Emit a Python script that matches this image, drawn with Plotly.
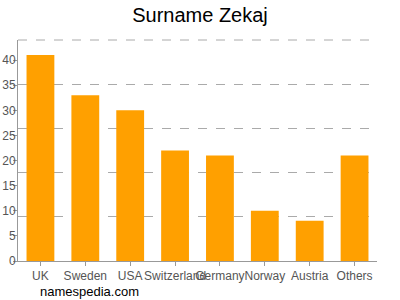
import plotly.graph_objects as go

categories = ["UK", "Sweden", "USA", "Switzerland", "Germany", "Norway", "Austria", "Others"]
values = [41, 33, 30, 22, 21, 10, 8, 21]
y_ticks = [0, 5, 10, 15, 20, 25, 30, 35, 40]
y_max = 44
grid_vals = [y_max * k / 5 for k in range(1, 5)]

fig = go.Figure()
fig.add_trace(go.Bar(
    x=categories, y=values,
    marker=dict(color="#FFA000", line=dict(width=0)),
    yaxis="y",
))
# invisible trace on a second y axis used only for the dashed grid
fig.add_trace(go.Scatter(x=[categories[0]], y=[0], yaxis="y2", mode="markers",
                         marker=dict(opacity=0), showlegend=False, hoverinfo="skip"))

fig.update_layout(
    width=400, height=300,
    margin=dict(l=18, r=23, t=40, b=39, autoexpand=False),
    paper_bgcolor="white", plot_bgcolor="white",
    showlegend=False,
    bargap=0.38,
    title=dict(text="Surname Zekaj", x=0.5, xanchor="center", y=0.95, yanchor="middle",
               font=dict(family="Liberation Sans, Arial, sans-serif", size=20, color="#000")),
    font=dict(family="Liberation Sans, Arial, sans-serif", size=12, color="#555"),
    xaxis=dict(showline=True, linecolor="#999", linewidth=1, ticks="outside", ticklen=4,
               tickcolor="#999", showgrid=False, tickangle=0, automargin=False,
               tickfont=dict(size=12, color="#555")),
    yaxis=dict(range=[0, y_max], tickvals=y_ticks, showline=True, linecolor="#999", linewidth=1,
               ticks="outside", ticklen=4, tickcolor="#999", showgrid=False, zeroline=False,
               automargin=False, ticklabelstandoff=-5, tickfont=dict(size=12, color="#555")),
    yaxis2=dict(range=[0, y_max], overlaying="y", side="right", tickvals=grid_vals,
                showticklabels=False, showgrid=True, gridcolor="#aaa", griddash="dash",
                gridwidth=1, zeroline=False, showline=False, ticks="", automargin=False),
    shapes=[dict(type="line", xref="paper", yref="paper", x0=0, x1=1, y0=1, y1=1,
                 line=dict(color="#aaa", width=1, dash="dash"), layer="below")],
    annotations=[dict(text="namespedia.com", xref="paper", yref="paper", x=0.055, y=-0.136,
                      xanchor="left", yanchor="middle", showarrow=False,
                      font=dict(family="Liberation Sans, Arial, sans-serif", size=13, color="#000"))],
)
fig.write_html("out.html")
